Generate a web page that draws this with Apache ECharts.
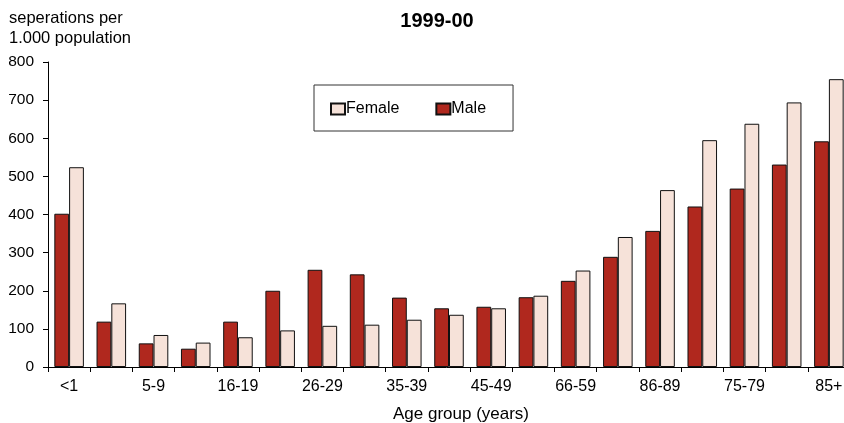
<!DOCTYPE html>
<html>
<head>
<meta charset="utf-8">
<script src="https://cdn.jsdelivr.net/npm/echarts@6/dist/echarts.min.js"></script>
<style>
  html, body { margin: 0; padding: 0; background: #fff; }
  #chart { width: 844px; height: 423px; }
</style>
</head>
<body>
<div id="chart"></div>
<script>
// Hospital separations per 1,000 population by age group, 1999-00
const ageGroups = ['<1', '1-4', '5-9', '10-14', '16-19', '20-24', '26-29', '30-34', '35-39',
  '40-44', '45-49', '50-54', '66-59', '60-64', '86-89', '70-74', '75-79', '80-84', '85+'];
const maleValues = [402, 119, 62, 48, 119, 200, 255, 243, 182, 154, 158, 183, 226, 289, 357, 421, 468, 531, 592];
const femaleValues = [524, 167, 84, 64, 78, 96, 108, 111, 124, 137, 154, 187, 253, 341, 464, 595, 638, 694, 755];
const yTicks = [0, 100, 200, 300, 400, 500, 600, 700, 800];

const FONT = 'Liberation Sans, Arial, sans-serif';
const MALE = '#B0281E';
const FEMALE = '#F6E2D9';

const chart = echarts.init(document.getElementById('chart'));
chart.setOption({
  animation: false,
  backgroundColor: '#ffffff',
  textStyle: { fontFamily: FONT },
  title: [
    {
      text: '1999-00',
      left: 432, top: 6, textAlign: 'center',
      textStyle: { fontFamily: FONT, fontSize: 20, fontWeight: 'bold', color: '#000' }
    },
    {
      text: 'seperations per\n1.000 population',
      left: 4, top: 3,
      textStyle: { fontFamily: FONT, fontSize: 16.5, fontWeight: 'normal', color: '#000', lineHeight: 20 }
    }
  ],
  legend: {
    data: ['Female', 'Male'],
    left: 314, top: 85,
    padding: [16, 27, 14, 16],
    itemGap: 36,
    itemWidth: 14, itemHeight: 11,
    borderColor: '#333', borderWidth: 1,
    textStyle: { fontFamily: FONT, fontSize: 16, color: '#000', padding: [0, 0, 0, -4] },
    icon: 'rect'
  },
  grid: { left: 48, right: -6, top: 62, bottom: 56, containLabel: false, outerBoundsMode: 'none' },
  xAxis: {
    type: 'category',
    data: ageGroups,
    name: 'Age group (years)',
    nameLocation: 'middle',
    nameGap: 39,
    nameTextStyle: { fontFamily: FONT, fontSize: 17, color: '#000', padding: [0, 0, 0, 24] },
    axisLine: { lineStyle: { color: '#000', width: 1 } },
    axisTick: { show: true, length: 5, alignWithLabel: false, interval: 0, lineStyle: { color: '#000' } },
    axisLabel: { interval: 1, margin: 12, fontFamily: FONT, fontSize: 16, color: '#000' }
  },
  yAxis: {
    type: 'value',
    min: yTicks[0], max: yTicks[yTicks.length - 1], interval: 100,
    axisLine: { show: true, lineStyle: { color: '#000', width: 1 } },
    axisTick: { show: true, length: 5, lineStyle: { color: '#000' } },
    axisLabel: { margin: 14, fontFamily: FONT, fontSize: 15.5, color: '#000' },
    splitLine: { show: false }
  },
  series: [
    {
      name: 'Male', type: 'bar', data: maleValues,
      barGap: '0%', barCategoryGap: '30%',
      itemStyle: { color: MALE, borderColor: '#111', borderWidth: 1 }
    },
    {
      name: 'Female', type: 'bar', data: femaleValues,
      barGap: '0%', barCategoryGap: '30%',
      itemStyle: { color: FEMALE, borderColor: '#111', borderWidth: 1 }
    }
  ]
});
</script>
</body>
</html>
